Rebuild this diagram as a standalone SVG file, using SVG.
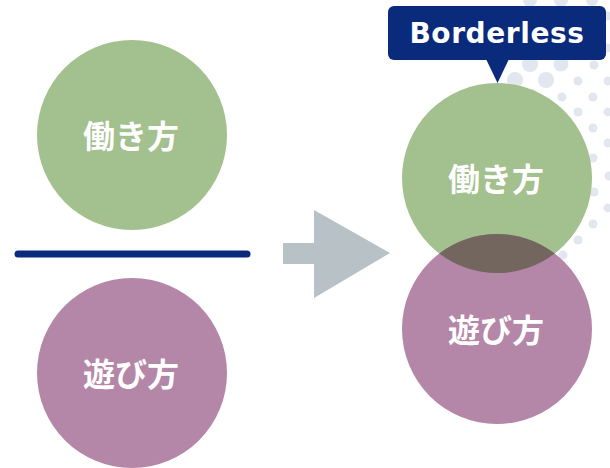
<svg xmlns="http://www.w3.org/2000/svg" width="610" height="468" viewBox="0 0 610 468">
<style>
.dot{fill:#e1e6ef}
.jp{font-family:"Noto Sans CJK JP","Noto Sans",sans-serif;font-weight:700;font-size:32px;fill:#ffffff;text-anchor:middle;dominant-baseline:central}
.green{fill:#a3c08f}
.purple{fill:#b486a8}
</style>
<rect width="610" height="468" fill="#ffffff"/>
<g id="dots">
<circle class="dot" cx="530" cy="0" r="7"/>
<circle class="dot" cx="561" cy="0" r="7"/>
<circle class="dot" cx="592" cy="0" r="6"/>
<circle class="dot" cx="608" cy="16" r="4.5"/>
<circle class="dot" cx="608" cy="48" r="4.5"/>
<circle class="dot" cx="530" cy="64" r="8"/>
<circle class="dot" cx="561" cy="64" r="7.5"/>
<circle class="dot" cx="594" cy="65" r="4.5"/>
<circle class="dot" cx="515" cy="80" r="8"/>
<circle class="dot" cx="546" cy="80" r="8"/>
<circle class="dot" cx="578" cy="81" r="4.5"/>
<circle class="dot" cx="608" cy="81" r="4.5"/>
<circle class="dot" cx="531" cy="96" r="7"/>
<circle class="dot" cx="562" cy="97" r="4.5"/>
<circle class="dot" cx="593" cy="97" r="4.5"/>
<circle class="dot" cx="578" cy="112" r="4.5"/>
<circle class="dot" cx="608" cy="112" r="4.5"/>
<circle class="dot" cx="593" cy="128" r="4.5"/>
<circle class="dot" cx="608" cy="143" r="4.5"/>
<circle class="dot" cx="593" cy="158" r="4.5"/>
<circle class="dot" cx="609" cy="176" r="4.5"/>
<circle class="dot" cx="594" cy="192" r="4.5"/>
<circle class="dot" cx="608" cy="208" r="4.5"/>
<circle class="dot" cx="593" cy="224" r="4.5"/>
<circle class="dot" cx="578" cy="240" r="4.5"/>
<circle class="dot" cx="563" cy="255" r="4.5"/>
</g>
<g id="connectors">
<line x1="18" y1="254" x2="247" y2="254" stroke="#0a2a7c" stroke-width="7" stroke-linecap="round"/>
<polygon points="283,243 314,243 314,210 390,253 314,298 314,264 283,264" fill="#b7c1c6"/>
</g>
<g id="left-work">
<circle class="green" cx="132" cy="135" r="95"/>
<text class="jp" x="131" y="134">働き方</text>
</g>
<g id="left-play">
<circle class="purple" cx="132" cy="373" r="95"/>
<text class="jp" x="131" y="372">遊び方</text>
</g>
<g id="right-work">
<circle class="green" cx="497" cy="178" r="95"/>
</g>
<g id="right-play">
<circle class="purple" cx="497" cy="329" r="95"/>
<path d="M439.3,253.5 A95,95 0 0 1 554.7,253.5 A95,95 0 0 1 439.3,253.5 Z" fill="#73665e"/>
<text class="jp" x="496" y="177">働き方</text>
<text class="jp" x="496" y="328">遊び方</text>
</g>
<g id="label">
<rect x="388" y="6" width="218" height="54" rx="6" fill="#0a2a7c"/>
<polygon points="486,59 509,59 497.5,83" fill="#0a2a7c"/>
<text x="497" y="43" font-family="'DejaVu Sans','Liberation Sans',sans-serif" font-weight="700" font-size="28" letter-spacing="0.6" fill="#ffffff" text-anchor="middle">Borderless</text>
</g>
</svg>
